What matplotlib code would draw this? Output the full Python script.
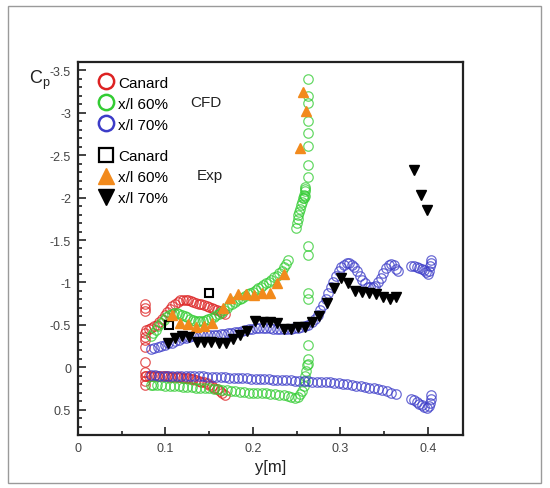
import matplotlib
matplotlib.use('Agg')
import matplotlib.pyplot as plt
from matplotlib.lines import Line2D
from matplotlib.patches import Rectangle
from matplotlib.ticker import MultipleLocator, FormatStrFormatter

plt.rcParams['font.family'] = ['Liberation Sans', 'DejaVu Sans']
plt.rcParams['axes.unicode_minus'] = False

# ---- CFD: canard ----
canard_up_y = [0.078, 0.081, 0.084, 0.087, 0.090, 0.093, 0.096, 0.099, 0.102, 0.105, 0.108, 0.111, 0.114,
               0.117, 0.120, 0.123, 0.126, 0.129, 0.132, 0.135, 0.138, 0.141, 0.144, 0.147, 0.150, 0.153,
               0.156, 0.159, 0.162, 0.165, 0.168]
canard_up_cp = [-0.44, -0.45, -0.46, -0.48, -0.50, -0.53, -0.57, -0.61, -0.65, -0.69, -0.72, -0.75, -0.77,
                -0.79, -0.79, -0.79, -0.79, -0.78, -0.77, -0.76, -0.75, -0.74, -0.73, -0.72, -0.71, -0.70,
                -0.69, -0.67, -0.66, -0.64, -0.63]
canard_le_y = [0.0765, 0.0765, 0.0765, 0.0765, 0.0765, 0.0765, 0.0765, 0.0765, 0.0765, 0.0765, 0.0765, 0.0765]
canard_le_cp = [-0.74, -0.70, -0.66, -0.40, -0.36, -0.32, -0.24, -0.06, 0.06, 0.10, 0.16, 0.21]
canard_lo_y = canard_up_y
canard_lo_cp = [0.10, 0.10, 0.10, 0.10, 0.11, 0.11, 0.11, 0.11, 0.11, 0.12, 0.12, 0.12, 0.12, 0.12, 0.13,
                0.13, 0.13, 0.14, 0.14, 0.15, 0.16, 0.17, 0.18, 0.19, 0.21, 0.22, 0.24, 0.26, 0.28, 0.30, 0.33]

# ---- CFD: x/l 60% ----
g_up_y = [0.083, 0.086, 0.089, 0.092, 0.095, 0.098, 0.101, 0.104, 0.107, 0.110, 0.113, 0.116, 0.119, 0.122,
          0.125, 0.128, 0.131, 0.134, 0.137, 0.140, 0.143, 0.146, 0.149, 0.152, 0.155, 0.158, 0.161, 0.164,
          0.167, 0.170, 0.173, 0.176, 0.179, 0.182, 0.185, 0.188, 0.191, 0.194, 0.197, 0.200, 0.203, 0.206,
          0.209, 0.212, 0.215, 0.218, 0.221, 0.224, 0.227, 0.230, 0.233, 0.236, 0.238, 0.240,
          0.249, 0.250, 0.251, 0.252, 0.253, 0.254, 0.255, 0.256, 0.257, 0.258, 0.259, 0.258, 0.260, 0.259, 0.260]
g_up_cp = [-0.37, -0.40, -0.44, -0.48, -0.52, -0.56, -0.59, -0.61, -0.63, -0.64, -0.64, -0.63, -0.62, -0.60,
           -0.59, -0.57, -0.56, -0.55, -0.55, -0.55, -0.55, -0.56, -0.57, -0.58, -0.59, -0.61, -0.63, -0.65,
           -0.68, -0.70, -0.73, -0.75, -0.77, -0.79, -0.81, -0.82, -0.84, -0.86, -0.87, -0.89, -0.91, -0.93,
           -0.95, -0.97, -0.99, -1.01, -1.03, -1.06, -1.08, -1.11, -1.14, -1.18, -1.22, -1.27,
           -1.64, -1.70, -1.75, -1.79, -1.83, -1.87, -1.91, -1.95, -1.99, -2.03, -2.08, -2.00, -2.02, -2.10, -2.12]
g_tip_y = [0.2625, 0.2625, 0.2625, 0.2625, 0.2625, 0.2625, 0.2625, 0.2625, 0.2625, 0.2625, 0.2625, 0.2625,
           0.2625, 0.2625, 0.2625]
g_tip_cp = [-3.40, -3.20, -3.12, -2.90, -2.76, -2.61, -2.38, -2.24, -1.43, -1.32, -0.87, -0.81, -0.26, -0.10, -0.04]
g_lo_y = [0.083, 0.086, 0.090, 0.095, 0.100, 0.105, 0.110, 0.115, 0.120, 0.125, 0.130, 0.135, 0.140, 0.145,
          0.150, 0.155, 0.160, 0.165, 0.170, 0.175, 0.180, 0.185, 0.190, 0.195, 0.200, 0.205, 0.210, 0.215,
          0.220, 0.225, 0.230, 0.235, 0.240, 0.244, 0.248, 0.251, 0.254, 0.256, 0.258, 0.259, 0.260, 0.261, 0.262]
g_lo_cp = [0.21, 0.21, 0.21, 0.21, 0.22, 0.22, 0.22, 0.22, 0.23, 0.23, 0.23, 0.24, 0.24, 0.25, 0.25, 0.26,
           0.26, 0.27, 0.27, 0.28, 0.28, 0.29, 0.29, 0.30, 0.30, 0.31, 0.31, 0.31, 0.32, 0.32, 0.33, 0.33,
           0.34, 0.35, 0.36, 0.35, 0.32, 0.28, 0.22, 0.16, 0.10, 0.04, -0.02]

# ---- CFD: x/l 70% ----
b_up_y = [0.083, 0.087, 0.091, 0.095, 0.099, 0.103, 0.107, 0.111, 0.115, 0.119, 0.123, 0.127, 0.131, 0.135,
          0.139, 0.143, 0.147, 0.151, 0.155, 0.159, 0.163, 0.167, 0.171, 0.175, 0.179, 0.183, 0.187, 0.191,
          0.195, 0.199, 0.203, 0.207, 0.211, 0.215, 0.219, 0.223, 0.227, 0.231, 0.235, 0.239, 0.243, 0.247,
          0.251, 0.255, 0.259, 0.263, 0.267, 0.271, 0.274, 0.277, 0.280, 0.283, 0.286, 0.289, 0.292, 0.295,
          0.298, 0.301, 0.304, 0.307, 0.310, 0.313, 0.316, 0.319, 0.322, 0.325, 0.328, 0.331, 0.334, 0.337,
          0.340, 0.343, 0.346, 0.349, 0.352, 0.355, 0.358, 0.361, 0.364, 0.366,
          0.381, 0.384, 0.387, 0.390, 0.393, 0.396, 0.398, 0.400, 0.401, 0.402, 0.403, 0.404]
b_up_cp = [-0.22, -0.23, -0.24, -0.25, -0.26, -0.28, -0.29, -0.31, -0.32, -0.34, -0.35, -0.36, -0.37, -0.37,
           -0.38, -0.38, -0.38, -0.38, -0.38, -0.38, -0.39, -0.39, -0.40, -0.40, -0.41, -0.42, -0.43, -0.44,
           -0.45, -0.45, -0.46, -0.46, -0.46, -0.46, -0.46, -0.45, -0.45, -0.45, -0.45, -0.45, -0.45, -0.46,
           -0.46, -0.47, -0.48, -0.50, -0.53, -0.57, -0.62, -0.67, -0.73, -0.80, -0.87, -0.94, -1.01, -1.07,
           -1.13, -1.18, -1.21, -1.23, -1.23, -1.21, -1.18, -1.13, -1.08, -1.03, -0.99, -0.95, -0.94, -0.94,
           -0.96, -1.00, -1.05, -1.11, -1.17, -1.21, -1.22, -1.20, -1.16, -1.13,
           -1.19, -1.19, -1.18, -1.17, -1.16, -1.15, -1.12, -1.10, -1.14, -1.19, -1.23, -1.26]
b_lo_y = [0.083, 0.088, 0.093, 0.098, 0.103, 0.108, 0.113, 0.118, 0.123, 0.128, 0.133, 0.138, 0.143, 0.148,
          0.153, 0.158, 0.163, 0.168, 0.173, 0.178, 0.183, 0.188, 0.193, 0.198, 0.203, 0.208, 0.213, 0.218,
          0.223, 0.228, 0.233, 0.238, 0.243, 0.248, 0.253, 0.258, 0.263, 0.268, 0.273, 0.278, 0.283, 0.288,
          0.293, 0.298, 0.303, 0.308, 0.313, 0.318, 0.323, 0.328, 0.333, 0.338, 0.343, 0.348, 0.353, 0.358, 0.363,
          0.381, 0.384, 0.387, 0.390, 0.393, 0.396, 0.399, 0.401, 0.402, 0.403, 0.404]
b_lo_cp = [0.09, 0.09, 0.10, 0.10, 0.10, 0.10, 0.10, 0.10, 0.11, 0.11, 0.11, 0.11, 0.11, 0.12, 0.12, 0.12,
           0.12, 0.12, 0.13, 0.13, 0.13, 0.13, 0.13, 0.14, 0.14, 0.14, 0.14, 0.14, 0.15, 0.15, 0.15, 0.15,
           0.15, 0.16, 0.16, 0.16, 0.16, 0.17, 0.17, 0.17, 0.18, 0.18, 0.19, 0.19, 0.20, 0.20, 0.21, 0.22,
           0.22, 0.23, 0.24, 0.25, 0.26, 0.27, 0.28, 0.30, 0.32,
           0.37, 0.39, 0.41, 0.43, 0.45, 0.47, 0.48, 0.46, 0.42, 0.37, 0.33]

# ---- Experiment ----
exp_canard_y = [0.104, 0.150]
exp_canard_cp = [-0.50, -0.87]
exp60_y = [0.108, 0.117, 0.126, 0.135, 0.144, 0.153, 0.166, 0.174, 0.183, 0.192, 0.201, 0.210, 0.219,
           0.227, 0.236, 0.254, 0.257, 0.261]
exp60_cp = [-0.62, -0.52, -0.51, -0.47, -0.48, -0.52, -0.70, -0.82, -0.86, -0.86, -0.85, -0.88, -0.87,
            -0.99, -1.10, -2.58, -3.25, -3.02]
exp70_y = [0.103, 0.111, 0.119, 0.127, 0.136, 0.144, 0.152, 0.161, 0.169, 0.177, 0.185, 0.193, 0.202,
           0.211, 0.219, 0.227, 0.235, 0.243, 0.251, 0.259, 0.268, 0.276, 0.285, 0.293, 0.301, 0.309,
           0.317, 0.325, 0.333, 0.341, 0.349, 0.357, 0.364, 0.384, 0.392, 0.399]
exp70_cp = [-0.28, -0.35, -0.37, -0.36, -0.30, -0.30, -0.30, -0.28, -0.29, -0.33, -0.38, -0.43, -0.54,
            -0.53, -0.53, -0.52, -0.45, -0.45, -0.47, -0.47, -0.53, -0.60, -0.76, -0.93, -1.05, -0.99,
            -0.90, -0.89, -0.88, -0.86, -0.83, -0.81, -0.83, -2.33, -2.03, -1.85]

RED, GREEN, BLUE, ORANGE = '#dd2222', '#33cc33', '#3c3cc8', '#f28a1c'

fig = plt.figure(figsize=(5.5, 4.89), dpi=100)
ax = fig.add_axes([0.1418, 0.1084, 0.70, 0.7628])

circ = dict(marker='o', ls='none', mfc='none', ms=6.8, mew=0.9, alpha=0.75)
ax.plot(canard_up_y, canard_up_cp, mec=RED, **circ)
ax.plot(canard_le_y, canard_le_cp, mec=RED, **circ)
ax.plot(canard_lo_y, canard_lo_cp, mec=RED, **circ)
ax.plot(g_up_y, g_up_cp, mec=GREEN, **circ)
ax.plot(g_tip_y, g_tip_cp, mec=GREEN, **circ)
ax.plot(g_lo_y, g_lo_cp, mec=GREEN, **circ)
ax.plot(b_up_y, b_up_cp, mec=BLUE, **circ)
ax.plot(b_lo_y, b_lo_cp, mec=BLUE, **circ)

ax.plot(exp_canard_y, exp_canard_cp, 's', ms=6, mfc='none', mec='black', mew=1.5)
ax.plot(exp60_y, exp60_cp, '^', ms=6.5, color=ORANGE, mec=ORANGE)
ax.plot(exp70_y, exp70_cp, 'v', ms=6.5, color='black')

ax.set_xlim(0, 0.44)
ax.set_ylim(0.8, -3.6)
ax.xaxis.set_major_locator(MultipleLocator(0.1))
ax.xaxis.set_minor_locator(MultipleLocator(0.05))
ax.yaxis.set_major_locator(MultipleLocator(0.5))
ax.yaxis.set_minor_locator(MultipleLocator(0.1))
ax.xaxis.set_major_formatter(FormatStrFormatter('%g'))
ax.yaxis.set_major_formatter(FormatStrFormatter('%g'))
ax.tick_params(which='both', direction='in', top=False, right=False, width=1.2, colors='#222222',
               labelcolor='#444444', labelsize=9, pad=5)
ax.tick_params(which='major', length=6)
ax.tick_params(which='minor', length=3)
for s in ax.spines.values():
    s.set_linewidth(1.6)
    s.set_color('#222222')

ax.set_xlabel('y[m]', fontsize=12, color='#222222', labelpad=4)
fig.text(40 / 550, 1 - 80 / 489, r'C$_\mathregular{p}$', fontsize=13, color='#222222',
         ha='center', va='center')

h_cfd = [Line2D([], [], marker='o', ls='none', mfc='none', mec=c, ms=11, mew=1.8) for c in (RED, GREEN, BLUE)]
h_exp = [Line2D([], [], marker='s', ls='none', mfc='none', mec='black', ms=10, mew=1.6),
         Line2D([], [], marker='^', ls='none', color=ORANGE, ms=12),
         Line2D([], [], marker='v', ls='none', color='black', ms=12)]
labels = ['Canard', 'x/l 60%', 'x/l 70%']
leg_kw = dict(loc='upper left', frameon=False, fontsize=11, handlelength=1.0, handletextpad=0.3,
              labelspacing=0.46, borderpad=0, borderaxespad=0)
leg1 = ax.legend(h_cfd, labels, bbox_to_anchor=(0.053, 0.963), **leg_kw)
ax.add_artist(leg1)
ax.legend(h_exp, labels, bbox_to_anchor=(0.053, 0.767), **leg_kw)
ax.text(0.291, 0.893, 'CFD', transform=ax.transAxes, fontsize=11, va='center', color='#222222')
ax.text(0.309, 0.697, 'Exp', transform=ax.transAxes, fontsize=11, va='center', color='#222222')

fig.patches.append(Rectangle((8 / 550, 1 - 484 / 489), 533 / 550, 477 / 489, transform=fig.transFigure,
                             fill=False, ec='#9a9a9a', lw=1))

fig.savefig('out.png', dpi=100)
